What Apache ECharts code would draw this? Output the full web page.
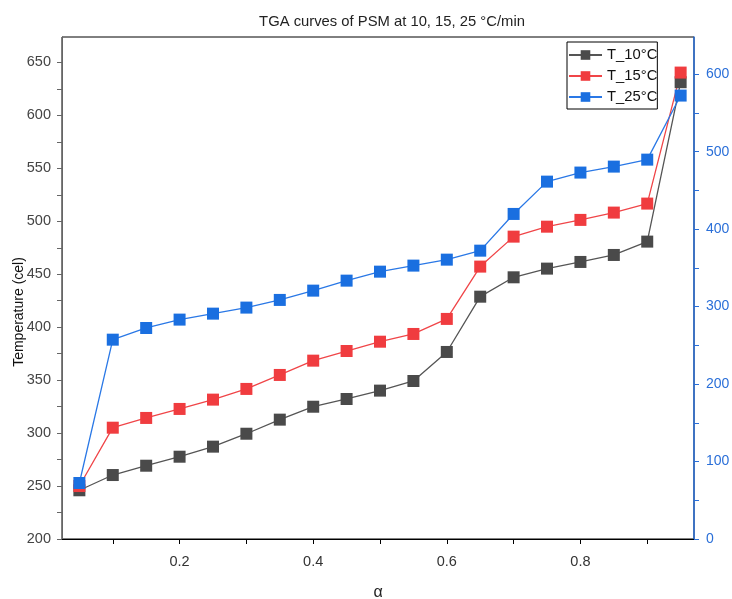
<!DOCTYPE html>
<html><head><meta charset="utf-8">
<script src="https://cdn.jsdelivr.net/npm/echarts@6/dist/echarts.min.js"></script>
<style>html,body{margin:0;padding:0;background:#fff}#c{width:732px;height:599px}</style>
</head><body><div id="c"></div>
<script>
var alpha = [0.05,0.10,0.15,0.20,0.25,0.30,0.35,0.40,0.45,0.50,0.55,0.60,0.65,0.70,0.75,0.80,0.85,0.90,0.95];
var t10 = [246,260.4,269.2,277.7,287.2,299.4,312.7,324.9,332.2,340.1,349.2,376.6,428.8,447.1,455.3,461.6,468.2,480.8,631.3];
var t15 = [250,305.1,314.3,322.8,331.6,341.7,354.9,368.4,377.5,386.3,393.6,407.8,457.2,485.5,494.9,501.3,508.2,516.7,640.4];
var t25 = [72.3,257.3,272.4,283.2,290.9,298.7,308.6,320.6,333.5,345.1,352.9,360.6,372.2,419.6,461.3,473.0,480.7,489.7,572.4];
var xLabels = [0.2,0.4,0.6,0.8];
var xTicks = [0.1,0.2,0.3,0.4,0.5,0.6,0.7,0.8,0.9];
var leftLabels = [200,250,300,350,400,450,500,550,600,650];
var leftTicks = [200,225,250,275,300,325,350,375,400,425,450,475,500,525,550,575,600,625,650];
var rightLabels = [0,100,200,300,400,500,600];
var rightTicks = [0,50,100,150,200,250,300,350,400,450,500,550,600];
var names = ['T_10°C','T_15°C','T_25°C'];

function pairs(v){ return alpha.map(function(a,i){ return [a, v[i]]; }); }
var FONT = 'Liberation Sans, Arial, sans-serif';
var chart = echarts.init(document.getElementById('c'), null, {renderer:'canvas'});
chart.setOption({
  animation:false,
  backgroundColor:'#fff',
  textStyle:{fontFamily:FONT},
  title:{text:'TGA curves of PSM at 10, 15, 25 °C/min', left:387, top:9, textAlign:'center',
    textStyle:{fontFamily:FONT, fontSize:14.8, fontWeight:'normal', color:'#222'}},
  grid:{left:62, right:38, top:37, bottom:60, outerBoundsMode:'none', containLabel:false,
    show:true, borderColor:'#000', borderWidth:1, backgroundColor:'transparent'},
  legend:{orient:'vertical', left:567, top:42, itemWidth:33, itemHeight:12, itemGap:5,
    padding:[5,0,4,1], borderColor:'#000', borderWidth:1, backgroundColor:'#fff',
    textStyle:{fontFamily:FONT, fontSize:14.8, color:'#111', lineHeight:16}, data:names},
  xAxis:{type:'value', min:0.024, max:0.97, name:'α', nameLocation:'middle', nameGap:46,
    nameTextStyle:{fontFamily:FONT, fontSize:16, color:'#222'},
    splitLine:{show:false},
    axisLine:{lineStyle:{color:'#000', width:1}},
    axisTick:{customValues:xTicks, length:5, lineStyle:{color:'#000'}},
    axisLabel:{customValues:xLabels, margin:15, fontSize:14.5, color:'#333', fontFamily:FONT}},
  yAxis:[
    {type:'value', min:200, max:674, position:'left',
     splitLine:{show:false},
     axisLine:{show:true, lineStyle:{color:'#666', width:1}},
     axisTick:{customValues:leftTicks, length:5, lineStyle:{color:'#666'}},
     axisLabel:{customValues:leftLabels, margin:11, fontSize:14.5, color:'#444', fontFamily:FONT}},
    {type:'value', min:0, max:648, position:'right',
     splitLine:{show:false},
     axisLine:{show:true, lineStyle:{color:'#2a6fd8', width:1.5}},
     axisTick:{customValues:rightTicks, length:5, lineStyle:{color:'#2a6fd8'}},
     axisLabel:{customValues:rightLabels, margin:12, fontSize:14, color:'#2a6fd8', fontFamily:FONT}}
  ],
  graphic:[{type:'text', x:19, y:312, rotation:Math.PI/2,
    style:{text:'Temperature (cel)', font:'14px '+FONT, fill:'#111', textAlign:'center', textVerticalAlign:'middle'}}],
  series:[
    {name:names[0], type:'line', data:pairs(t10), yAxisIndex:0, symbol:'rect', symbolSize:12,
     itemStyle:{color:'#4a4a4a'}, lineStyle:{color:'#555', width:1.3}},
    {name:names[1], type:'line', data:pairs(t15), yAxisIndex:0, symbol:'rect', symbolSize:12,
     itemStyle:{color:'#f03c3f'}, lineStyle:{color:'#f04548', width:1.3}},
    {name:names[2], type:'line', data:pairs(t25), yAxisIndex:1, symbol:'rect', symbolSize:12,
     itemStyle:{color:'#1a6fe0'}, lineStyle:{color:'#2a78e6', width:1.3}}
  ]
});
</script></body></html>
